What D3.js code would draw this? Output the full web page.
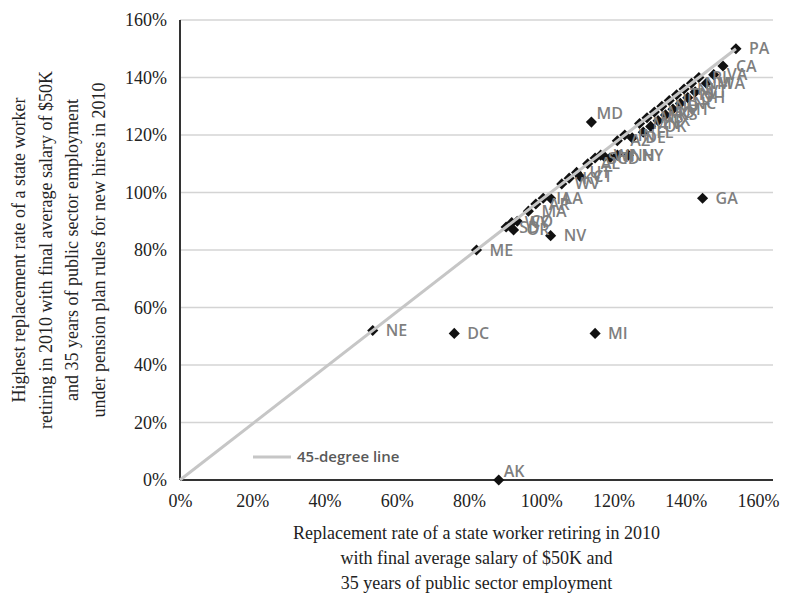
<!DOCTYPE html>
<html>
<head>
<meta charset="utf-8">
<script src="https://cdn.jsdelivr.net/npm/d3@7"></script>
<style>
  body { margin: 0; background: #fff; }
  text { font-family: "Liberation Serif", "DejaVu Serif", serif; }
  .lbl { font-family: "Open Sans", "Lato", sans-serif; font-weight: 600; }
</style>
</head>
<body>
<svg id="chart" width="800" height="596"></svg>
<script>
// state codes and the two replacement rates (%)
var states = ["AK","DC","MI","GA","NV","MD","CT","NE","ME","OR","CO","MA","IA","LA",
  "SD","WY","AR","WV","KY","UT","AL","SC","WI","HI","ID","NH","NY","AZ","IN","DE",
  "MN","FL","MS","OK","MO","TX","ND","KS","IL","MT","TN","NC","NJ","OH","NM","VT",
  "RI","WA","VA","CA","PA"];
var xRate = [86,74,112,141,100,111,108,52,80,90,91,94,98,100,
  88,89.5,96,103,105,107,110,112,113.5,114.5,116,118,121,118,120,122,
  124,125,126,127,128,129,130,131,132,133,134,135,136,137,138,139,
  140,142,144,146.5,150];
var yRate = [0,51,51,98,85,124.5,105.5,52,80,87,90,93.5,98,98,
  88,89.5,96,103,105,107,110,112,113,112.5,112,113,113,118,120,119,
  124,121,126,123,128,125,130,127,132,129,134,131,136,133,138,135,
  140,138,141,144,150];
var ticks = [0,20,40,60,80,100,120,140,160];
var lineEnd = 150;   // 45-degree line runs up to PA
var labelAbove = ["MD","AK"];
var legendText = "45-degree line";
var xTitle = ["Replacement rate of a state worker retiring in 2010",
  "with final average salary of $50K and",
  "35 years of public sector employment"];
var yTitle = ["Highest replacement rate of a state worker",
  "retiring in 2010 with final average salary of $50K",
  "and 35 years of public sector employment",
  "under pension plan rules for new hires in 2010"];

var svg = d3.select("#chart");
var pLeft = 180, pRight = 773, pTop = 20, pBottom = 480;

var x = d3.scaleLinear().domain([0,160]).range([pLeft,pRight]);
var y = d3.scaleLinear().domain([0,160]).range([pBottom,pTop]);
// tick labels in the picture sit a little tighter than the plot itself
var xLab = d3.scaleLinear().domain([0,160]).range([pLeft,758]);

var pts = states.map(function(s,i){ return {s:s, x:xRate[i], y:yRate[i]}; });

// gridlines
svg.append("g").selectAll("line").data(ticks.slice(1)).enter().append("line")
  .attr("x1",pLeft).attr("x2",pRight)
  .attr("y1",function(d){return y(d);}).attr("y2",function(d){return y(d);})
  .attr("stroke","#d4d4d4").attr("stroke-width",1.5);

// axes
var fmt = function(d){ return d + "%"; };
var ya = svg.append("g").attr("transform","translate("+pLeft+",0)")
  .call(d3.axisLeft(y).tickValues(ticks).tickFormat(fmt).tickSize(0).tickPadding(13));
var xa = svg.append("g").attr("transform","translate(0,"+pBottom+")")
  .call(d3.axisBottom(xLab).tickValues(ticks).tickFormat(fmt).tickSize(0).tickPadding(14));
[ya,xa].forEach(function(a){
  a.select(".domain").remove();
  a.selectAll("text").attr("font-family","Liberation Serif").attr("font-size",18).attr("fill","#222");
});
svg.append("line").attr("x1",pLeft).attr("x2",pLeft).attr("y1",pTop).attr("y2",pBottom)
  .attr("stroke","#333").attr("stroke-width",2);
svg.append("line").attr("x1",pLeft).attr("x2",pRight).attr("y1",pBottom).attr("y2",pBottom)
  .attr("stroke","#333").attr("stroke-width",2);

// markers
svg.append("g").selectAll("path").data(pts).enter().append("path")
  .attr("d", d3.symbol(d3.symbolSquare, 62))
  .attr("transform",function(d){ return "translate("+x(d.x)+","+y(d.y)+") rotate(45)"; })
  .attr("fill","#111");

// 45-degree line, drawn over the markers
svg.append("line")
  .attr("x1",x(0)).attr("y1",y(0)).attr("x2",x(lineEnd)).attr("y2",y(lineEnd))
  .attr("stroke","#c6c6c6").attr("stroke-width",3);

// state labels
svg.append("g").selectAll("text").data(pts).enter().append("text")
  .attr("class","lbl")
  .attr("x",function(d){ return x(d.x) + (labelAbove.indexOf(d.s) >= 0 ? 5 : 13); })
  .attr("y",function(d){ return y(d.y) + (labelAbove.indexOf(d.s) >= 0 ? -9 : 0); })
  .attr("dy","0.35em")
  .attr("font-size",16).attr("fill","#7f7f7f")
  .text(function(d){ return d.s; });

// legend
svg.append("line").attr("x1",253).attr("x2",291).attr("y1",457).attr("y2",457)
  .attr("stroke","#c6c6c6").attr("stroke-width",3);
svg.append("text").attr("class","lbl").attr("x",297).attr("y",457).attr("dy","0.35em")
  .attr("font-size",15).attr("fill","#595959").text(legendText);

// titles
svg.append("g").selectAll("text").data(xTitle).enter().append("text")
  .attr("x",(pLeft+pRight)/2).attr("y",function(d,i){ return 539 + i*25; })
  .attr("text-anchor","middle").attr("font-size",18).attr("fill","#222")
  .text(function(d){ return d; });
svg.append("g").selectAll("text").data(yTitle).enter().append("text")
  .attr("transform",function(d,i){ return "translate("+(25 + i*26.5)+",250) rotate(-90)"; })
  .attr("text-anchor","middle").attr("font-size",18).attr("fill","#222")
  .text(function(d){ return d; });
</script>
</body>
</html>
